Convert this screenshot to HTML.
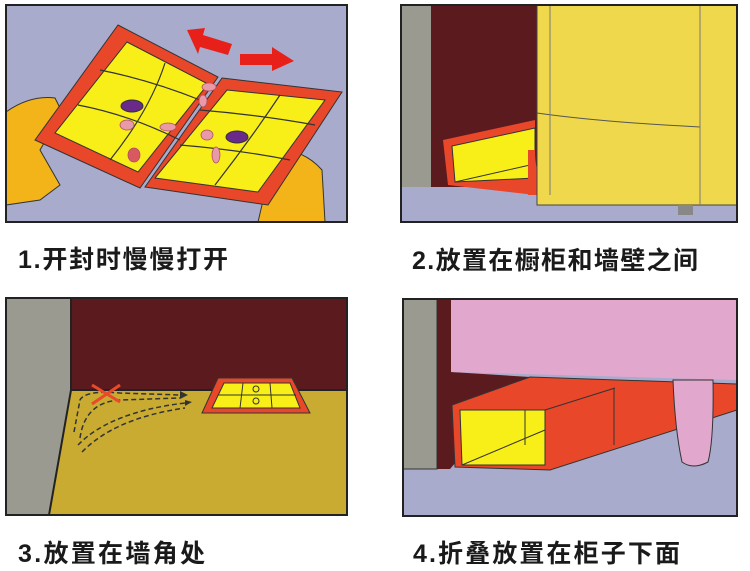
<!DOCTYPE html>
<html><head><meta charset="utf-8"><style>
html,body{margin:0;padding:0;background:#fff;}
svg{display:block}
text{font-family:"Liberation Sans","Noto Sans CJK SC",sans-serif;font-weight:bold;fill:#1a1a1a}
</style></head><body>
<svg width="750" height="571" viewBox="0 0 750 571" xmlns="http://www.w3.org/2000/svg">
<!-- Panel 1 -->
<rect x="6" y="5" width="341" height="217" fill="#a9abcc"/>
<path d="M6 112 Q30 95 55 98 L62 112 L40 150 L60 185 L40 200 L6 205Z" fill="#f2b418" stroke="#333" stroke-width="1"/>
<path d="M262 150 Q300 145 322 170 L325 222 L258 222 L262 205Z" fill="#f2b418" stroke="#333" stroke-width="1"/>
<polygon points="118,25 218,77 140,188 35,140" fill="#e8472a" stroke="#333"/>
<polygon points="127,42 208,84 138,172 55,133" fill="#f8ef18" stroke="#333"/>
<polygon points="222,78 342,92 268,205 145,187" fill="#e8472a" stroke="#333"/>
<polygon points="227,90 325,100 258,192 155,178" fill="#f8ef18" stroke="#333"/>
<g stroke="#333" stroke-width="1.2" fill="none">
<path d="M100 70 Q150 80 200 100"/><path d="M78 105 Q130 115 180 140"/>
<path d="M165 63 Q150 110 110 160"/>
<path d="M200 110 Q260 115 315 125"/><path d="M180 145 Q240 150 290 160"/>
<path d="M280 95 Q250 140 215 185"/>
</g>
<ellipse cx="132" cy="106" rx="11" ry="6" fill="#6a2a8a" stroke="#333"/>
<ellipse cx="237" cy="137" rx="11" ry="6" fill="#6a2a8a" stroke="#333"/>
<g fill="#e89aa8" stroke="#b05060" stroke-width="0.8">
<ellipse cx="209" cy="87" rx="7" ry="4"/><ellipse cx="203" cy="101" rx="4" ry="6"/>
<ellipse cx="127" cy="125" rx="7" ry="5"/><ellipse cx="168" cy="127" rx="8" ry="4"/>
<ellipse cx="207" cy="135" rx="6" ry="5"/><ellipse cx="216" cy="155" rx="4" ry="8"/>
<ellipse cx="134" cy="155" rx="6" ry="7" fill="#d85a60"/>
</g>
<polygon points="187,30 205,28 203,35 232,44 228,55 200,47 198,54" fill="#e8201a"/>
<polygon points="240,54 272,54 272,47 294,61 272,71 272,65 240,65" fill="#e8201a"/>
<rect x="6" y="5" width="341" height="217" fill="none" stroke="#222" stroke-width="2"/>
<!-- Panel 2 -->
<rect x="401" y="5" width="336" height="217" fill="#a9abcc"/>
<rect x="401" y="5" width="30" height="182" fill="#9a9a90"/>
<rect x="431" y="5" width="107" height="182" fill="#5a1a1e"/>
<polygon points="443,140 535,120 535,195 448,185" fill="#e8472a"/>
<polygon points="452,146 535,128 535,178 455,182" fill="#f8ef18" stroke="#333"/>
<path d="M455 182 L530 165" stroke="#333"/>
<path d="M528 150 L528 195 L555 195 Q535 185 535 150Z" fill="#e8472a"/>
<rect x="537" y="5" width="200" height="200" fill="#f0d84c" stroke="#444"/>
<path d="M537 113 Q600 122 700 127" stroke="#555" fill="none"/>
<line x1="550" y1="5" x2="550" y2="195" stroke="#777"/>
<line x1="700" y1="5" x2="700" y2="205" stroke="#777"/>
<rect x="678" y="205" width="15" height="10" fill="#888"/>
<rect x="401" y="5" width="336" height="217" fill="none" stroke="#222" stroke-width="2"/>
<!-- Panel 3 -->
<rect x="6" y="298" width="341" height="217" fill="#c9ab32"/>
<rect x="71" y="298" width="276" height="92" fill="#5a1a1e"/>
<polygon points="6,298 71,298 71,390 49,515 6,515" fill="#9a9a90"/>
<path d="M71 298 L71 390 L49 515 M71 390 L347 390" stroke="#222" stroke-width="2" fill="none"/>
<polygon points="218,378 292,378 310,413 202,413" fill="#e8472a" stroke="#333"/>
<polygon points="224,383 290,383 300,408 212,408" fill="#f8ef18" stroke="#333"/>
<g stroke="#333" fill="none"><line x1="243" y1="383" x2="240" y2="408"/><line x1="270" y1="383" x2="272" y2="408"/><line x1="218" y1="395" x2="296" y2="395"/></g>
<circle cx="256" cy="389" r="3" fill="#f8ef18" stroke="#333"/><circle cx="256" cy="401" r="3" fill="#f8ef18" stroke="#333"/>
<g stroke="#333" stroke-width="1.5" fill="none" stroke-dasharray="5,3">
<path d="M74 432 L80 400 Q85 390 120 393 L180 395"/><path d="M80 438 Q85 402 120 400 L180 398"/>
<path d="M78 445 Q110 412 185 403"/><path d="M82 452 Q115 418 185 408"/>
</g>
<polygon points="180,391 188,395 180,399" fill="#333"/><polygon points="185,400 192,402 185,406" fill="#333"/>
<path d="M92 385 L120 402 M120 385 L92 404" stroke="#e84a2a" stroke-width="3"/>
<rect x="6" y="298" width="341" height="217" fill="none" stroke="#222" stroke-width="2"/>
<!-- Panel 4 -->
<rect x="403" y="299" width="334" height="217" fill="#a9abcc"/>
<rect x="403" y="299" width="34" height="170" fill="#9a9a90" stroke="#333"/>
<polygon points="437,299 451,299 451,372 530,377 450,469 437,469" fill="#5a1a1e"/>
<polygon points="451,299 737,299 737,380 451,372" fill="#e2a7cd"/>
<polygon points="452,405 530,377 737,384 737,410 550,470 455,467" fill="#e8472a" stroke="#333"/>
<polygon points="460,410 545,410 545,465 462,465" fill="#f8ef18" stroke="#333"/>
<line x1="462" y1="465" x2="545" y2="430" stroke="#333"/>
<line x1="525" y1="410" x2="525" y2="445" stroke="#333"/>
<line x1="545" y1="410" x2="615" y2="388" stroke="#333"/>
<line x1="614" y1="388" x2="614" y2="445" stroke="#333"/>
<path d="M673 380 L713 380 Q714 440 708 462 Q693 470 682 462 Q675 430 673 380Z" fill="#e2a7cd" stroke="#333"/>
<rect x="403" y="299" width="334" height="217" fill="none" stroke="#222" stroke-width="2"/>
<!-- Labels -->
<text x="18" y="268" font-size="25" textLength="210" lengthAdjust="spacing">1.开封时慢慢打开</text>
<text x="412" y="269" font-size="25" textLength="286" lengthAdjust="spacing">2.放置在橱柜和墙壁之间</text>
<text x="18" y="562" font-size="25" textLength="187" lengthAdjust="spacing">3.放置在墙角处</text>
<text x="413" y="562" font-size="25" textLength="267" lengthAdjust="spacing">4.折叠放置在柜子下面</text>
</svg>
</body></html>
